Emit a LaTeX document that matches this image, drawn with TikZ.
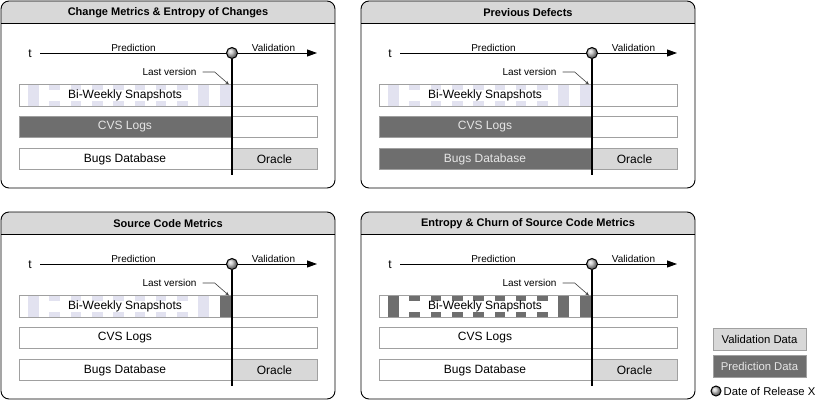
\documentclass[tikz,border=0pt]{standalone}
\usepackage{fontspec}
\setmainfont{Liberation Sans}
\usetikzlibrary{arrows.meta}
\definecolor{darkfill}{HTML}{6E6E6E}
\definecolor{lightfill}{HTML}{D8D8D8}
\definecolor{lav}{RGB}{226,226,240}
\definecolor{barline}{HTML}{A0A0A0}
\definecolor{lighttext}{HTML}{E6E6E6}
\tikzset{
  panelbox/.style={draw=black, line width=0.9pt, rounded corners=8pt},
  bartext/.style={font=\fontsize{12}{14}\selectfont, inner sep=0pt},
  smalltext/.style={font=\fontsize{10}{12}\selectfont, inner sep=0pt},
  titletext/.style={font=\bfseries\fontsize{11}{13}\selectfont, inner sep=0pt},
  legtext/.style={font=\fontsize{11.3}{13}\selectfont, inner sep=0pt},
  barbox/.style={draw=barline, line width=0.8pt},
  releasedot/.style={circle, draw=black, line width=1pt, minimum size=11pt, inner sep=0pt, shading=ball, ball color=gray!45},
  axisline/.style={line width=0.9pt, -{Triangle[length=10pt,width=7pt]}},
  cutline/.style={line width=2.4pt},
  leader/.style={line width=0.6pt, draw=black!75, -{Stealth[length=4pt,width=3.2pt]}},
  legbox/.style={draw=barline, line width=0.8pt, minimum width=93pt, minimum height=22pt, inner sep=0pt, font=\fontsize{11.3}{13}\selectfont},
  cvsfill/.style={fill=white}, cvstext/.style={text=black},
  bugsfill/.style={fill=white}, bugstext/.style={text=black},
  patfill/.style={fill=lav}, lastfill/.style={fill=lav},
}
\newcommand\metricpanel[5]{%
\begin{scope}[shift={(#2,#3)}, #5]
  \begin{scope}
    \clip[rounded corners=8pt] (0,0) rectangle (334,187);
    \fill[white] (0,0) rectangle (334,187);
    \fill[lightfill] (0,0) rectangle (334,22);
  \end{scope}
  \draw[line width=0.9pt] (0,22) -- (334,22);
  \draw[panelbox] (0,0) rectangle (334,187);
  \node[titletext] (#1-title) at (167,11.5) {#4};
  % snapshots bar
  \fill[white] (18,83) rectangle (316,105);
  \foreach \k in {1,...,7} {
    \fill[patfill] ({27+21.3*\k},83) rectangle ++(10.6,5.5);
    \fill[patfill] ({27+21.3*\k},105) rectangle ++(10.6,-5.5);
  }
  \fill[patfill] (27,83) rectangle ++(10.6,22);
  \fill[patfill] (197.4,83) rectangle ++(10.6,22);
  \fill[lastfill] (218.7,83) rectangle (229.8,105);
  \draw[barbox] (18,83) rectangle (316,105);
  % cvs bar
  \fill[white] (18,115) rectangle (316,136.5);
  \fill[cvsfill] (18,115) rectangle (231,136.5);
  \draw[barbox] (18,115) rectangle (316,136.5);
  % bugs bar
  \fill[white] (18,147) rectangle (316,168.5);
  \fill[bugsfill] (18,147) rectangle (231,168.5);
  \fill[lightfill] (231,147) rectangle (316,168.5);
  \draw[barbox] (18,147) rectangle (316,168.5);
  \node[bartext] (#1-snap) at (124,94) {Bi-Weekly Snapshots};
  \node[bartext, cvstext] (#1-cvs) at (124,126) {CVS Logs};
  \node[bartext, bugstext] (#1-bugs) at (124,158) {Bugs Database};
  \node[bartext] (#1-oracle) at (273.5,158) {Oracle};
  % time axis
  \node[bartext] (#1-t) at (29,52.5) {t};
  \coordinate (#1-t0) at (39,52);
  \coordinate (#1-t1) at (316,52);
  \draw[axisline] (#1-t0) -- (#1-t1);
  \node[smalltext] (#1-pred) at (132.5,46.5) {Prediction};
  \node[smalltext] (#1-val) at (272.5,46.5) {Validation};
  \node[releasedot] (#1-dot) at (231,52) {};
  \coordinate (#1-end) at (231,174);
  \draw[cutline] (#1-dot.south) -- (#1-end);
  \node[smalltext] (#1-last) at (168.5,70.5) {Last version};
  \coordinate (#1-lead) at (228,83.5);
  \draw[leader] ([xshift=6pt,yshift=-0.5pt]#1-last.east) -- ++(12,0) -- (#1-lead);
\end{scope}}
\begin{document}
\begin{tikzpicture}[x=1pt,y=-1pt]
\useasboundingbox (0,0) rectangle (820,400);
\fill[white] (0,0) rectangle (820,400);
\metricpanel{pa}{1}{1}{Change Metrics \& Entropy of Changes}{cvsfill/.style={fill=darkfill}, cvstext/.style={text=lighttext}}
\metricpanel{pb}{361}{1}{Previous Defects}{cvsfill/.style={fill=darkfill}, cvstext/.style={text=lighttext}, bugsfill/.style={fill=darkfill}, bugstext/.style={text=lighttext}}
\metricpanel{pc}{1}{212}{Source Code Metrics}{lastfill/.style={fill=darkfill}}
\metricpanel{pd}{361}{212}{Entropy \& Churn of Source Code Metrics}{patfill/.style={fill=darkfill}, lastfill/.style={fill=darkfill}}
% legend
\node[legbox, fill=lightfill] (valdata) at (759.5,339) {Validation Data};
\node[legbox, fill=darkfill, text=lighttext] (preddata) at (759.5,366) {Prediction Data};
\node[releasedot, minimum size=10pt] (reldot) at (716,391) {};
\node[legtext, anchor=west] (reltext) at (723.5,391) {Date of Release X};
\end{tikzpicture}
\end{document}
